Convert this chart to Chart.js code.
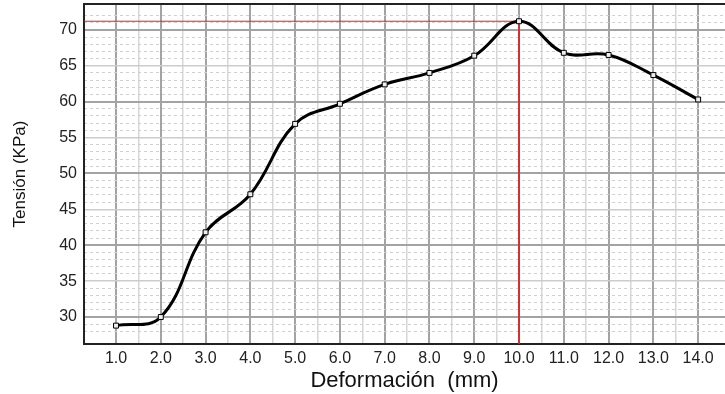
<!DOCTYPE html>
<html>
<head>
<meta charset="utf-8">
<script src="https://cdn.jsdelivr.net/npm/chart.js@4/dist/chart.umd.min.js"></script>
<style>
  html, body { margin: 0; padding: 0; background: #fff; }
</style>
</head>
<body>
<canvas id="stressChart" width="725" height="394"></canvas>
<script>
// data
const deformation = [1, 2, 3, 4, 5, 6, 7, 8, 9, 10, 11, 12, 13, 14];
const tension = [28.8, 30.0, 41.8, 47.1, 56.9, 59.7, 62.4, 64.0, 66.4, 71.2, 66.8, 66.5, 63.7, 60.3];
const xRange = [0.285, 14.6];
const yRange = [26.24, 73.6];
const xTitle = 'Deformación  (mm)';
const yTitle = 'Tensión (KPa)';

const isStep = (v, step) => Math.abs(v / step - Math.round(v / step)) < 1e-6;
const keepSteps = step => scale => {
    scale.ticks = scale.ticks.filter(t => isStep(t.value, step));
};
const noPadding = scale => {
    scale.paddingTop = 0;
    scale.paddingBottom = 0;
    scale.paddingLeft = 0;
    scale.paddingRight = 0;
};

// peak marker: horizontal from the axis to the max, then down to the x axis
const peakIdx = tension.indexOf(Math.max(...tension));
const peakLine = [
    { x: xRange[0], y: tension[peakIdx] },
    { x: deformation[peakIdx], y: tension[peakIdx] },
    { x: deformation[peakIdx], y: yRange[0] }
];

const font = 'Liberation Sans, Arial, sans-serif';

new Chart(document.getElementById('stressChart'), {
    type: 'line',
    data: {
        datasets: [
            {
                data: deformation.map((d, i) => ({ x: d, y: tension[i] })),
                borderColor: '#000',
                borderWidth: 3,
                tension: 0.4,
                pointStyle: 'rect',
                pointRadius: 3.5,
                pointBorderWidth: 1,
                pointBorderColor: '#000',
                pointBackgroundColor: '#eee',
                order: 1
            },
            {
                data: peakLine,
                borderColor: '#e02020',
                borderWidth: 1,
                tension: 0,
                pointRadius: 0,
                order: 2
            }
        ]
    },
    options: {
        responsive: false,
        animation: false,
        layout: { autoPadding: false, padding: { top: 4, right: 0, bottom: 0, left: 0 } },
        plugins: {
            legend: { display: false },
            tooltip: { enabled: false }
        },
        scales: {
            x: {
                type: 'linear',
                position: 'bottom',
                min: xRange[0],
                max: xRange[1],
                afterBuildTicks: keepSteps(0.5),
                afterFit: scale => { scale.height = 50; noPadding(scale); },
                ticks: {
                    stepSize: 0.5,
                    autoSkip: false,
                    maxRotation: 0,
                    minRotation: 0,
                    padding: 5,
                    color: '#222',
                    font: { family: font, size: 16 },
                    callback: v => isStep(v, 1) ? v.toFixed(1) : ''
                },
                grid: {
                    drawTicks: false,
                    color: ctx => ctx.tick && isStep(ctx.tick.value, 1) ? '#a3a3a3' : '#d6d6d6',
                    lineWidth: ctx => ctx.tick && isStep(ctx.tick.value, 1) ? 2 : 1.5
                },
                border: { color: '#222', width: 2 },
                title: {
                    display: true,
                    text: xTitle,
                    color: '#111',
                    font: { family: font, size: 22 },
                    padding: { top: 0, bottom: 0 }
                }
            },
            xTop: {
                type: 'linear',
                position: 'top',
                min: xRange[0],
                max: xRange[1],
                afterFit: scale => { scale.height = 0; noPadding(scale); },
                ticks: { display: false },
                grid: { display: false },
                border: { color: '#222', width: 2 }
            },
            y: {
                type: 'linear',
                position: 'left',
                min: yRange[0],
                max: yRange[1],
                afterBuildTicks: keepSteps(5),
                afterFit: scale => { scale.width = 84; noPadding(scale); },
                ticks: {
                    stepSize: 5,
                    autoSkip: false,
                    padding: 7,
                    color: '#222',
                    font: { family: font, size: 16 }
                },
                grid: {
                    drawTicks: false,
                    color: ctx => ctx.tick && isStep(ctx.tick.value, 10) ? '#a3a3a3' : '#cccccc',
                    lineWidth: ctx => ctx.tick && isStep(ctx.tick.value, 10) ? 2 : 1.5
                },
                border: { color: '#222', width: 2 },
                title: {
                    display: true,
                    text: yTitle,
                    color: '#111',
                    font: { family: font, size: 17 },
                    padding: { top: 10, bottom: 0 }
                }
            },
            yMinor: {
                type: 'linear',
                position: 'left',
                min: yRange[0],
                max: yRange[1],
                afterBuildTicks: keepSteps(1),
                afterFit: scale => { scale.width = 0; noPadding(scale); },
                ticks: { display: false, stepSize: 1, autoSkip: false },
                grid: {
                    drawTicks: false,
                    color: ctx => ctx.tick && isStep(ctx.tick.value, 5) ? 'rgba(0,0,0,0)' : '#d0d0d0',
                    lineWidth: 1
                },
                border: { display: false, dash: [3, 3] }
            }
        }
    }
});
</script>
</body>
</html>
